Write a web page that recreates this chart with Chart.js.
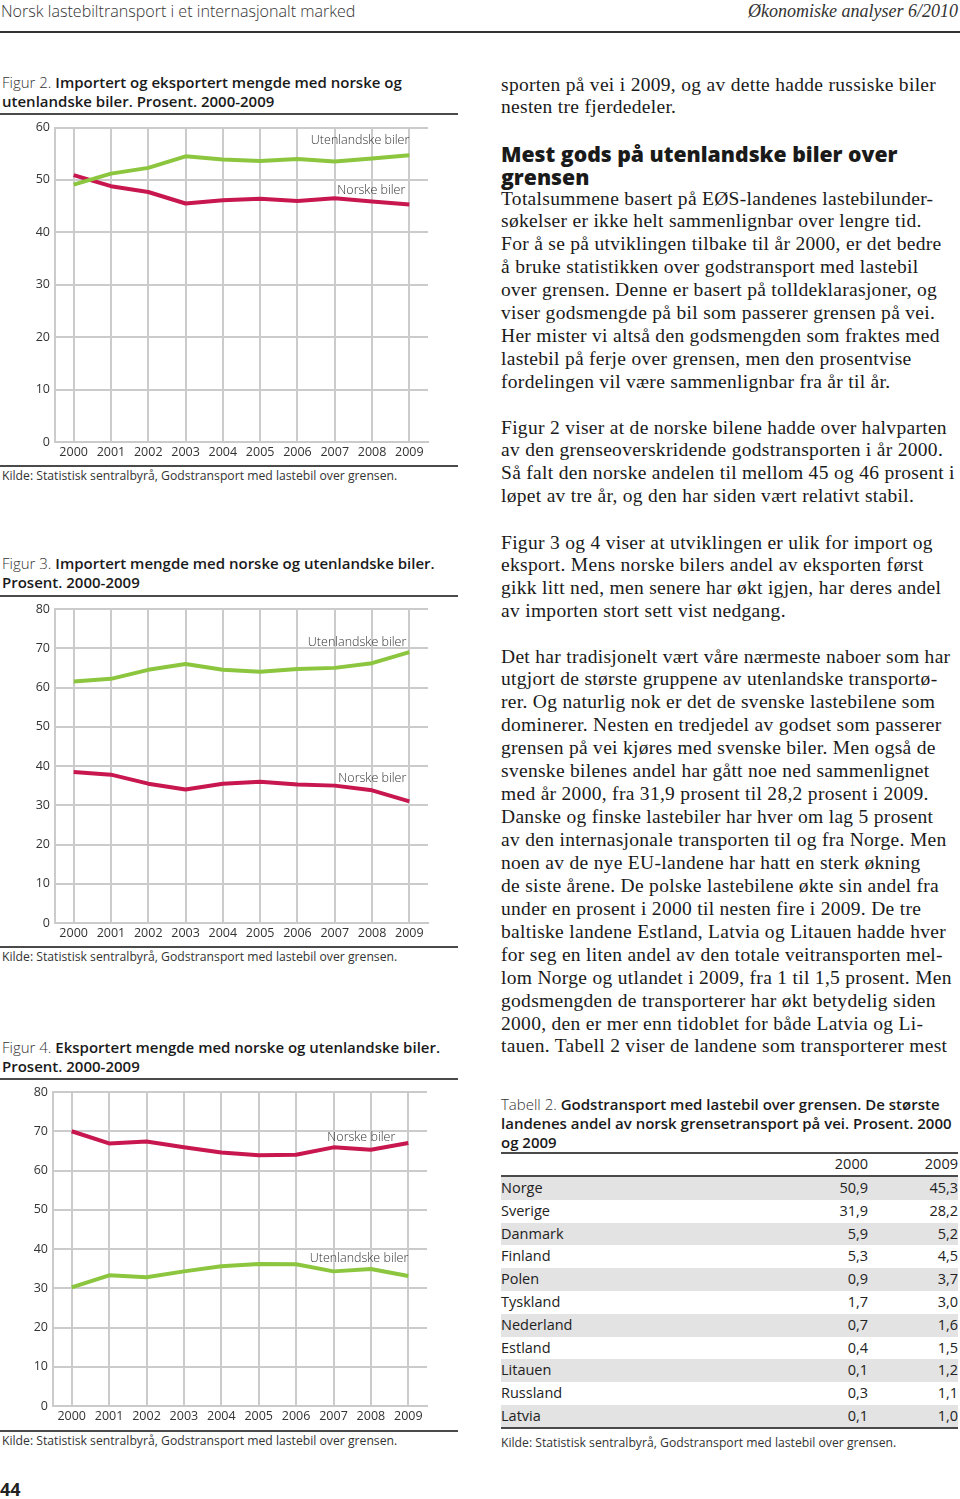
<!DOCTYPE html>
<html lang="no">
<head>
<meta charset="utf-8">
<script src="https://cdn.jsdelivr.net/npm/chart.js@4.4.1/dist/chart.umd.min.js"></script>
<style>
  html, body { margin:0; padding:0; background:#fff; }
  body { width:960px; height:1499px; position:relative; overflow:hidden; color:#1a1a1a; }
  .abs { position:absolute; white-space:nowrap; }
  .sans { font-family:"Open Sans", "Noto Sans", sans-serif; }
  .serif { font-family:"Liberation Serif", "DejaVu Serif", serif; }
  .rule { position:absolute; background:#4a4a4a; }
  .cap { font-size:15px; line-height:19px; color:#1a1a1a; }
  .cap b { font-weight:600; }
  .cap .lt { font-weight:300; color:#333; }
  .src { font-size:12.2px; color:#333; line-height:16px; }
  .txt { font-size:19.5px; line-height:22.93px; letter-spacing:0.3px; color:#1a1a1a; }
  .chartbox { position:absolute; width:460px; height:350px; left:0; }
  .trow { position:absolute; left:501px; width:457px; height:22.8px; font-size:14.5px; line-height:22.8px; color:#222; }
  .trow.sh { background:#e3e3e3; }
  .trow span { position:absolute; }
</style>
</head>
<body>
<!-- header -->
<div class="abs sans" style="left:1px;top:0;font-size:16.1px;line-height:22px;font-weight:300;color:#333;">Norsk lastebiltransport i et internasjonalt marked</div>
<div class="abs serif" style="right:2px;top:0;font-size:18px;line-height:22px;font-style:italic;color:#333;">Økonomiske analyser 6/2010</div>
<div class="rule" style="left:0;top:31px;width:960px;height:2px;background:#333;"></div>

<!-- Figure 2 -->
<div class="abs sans cap" style="left:2px;top:72.5px;"><span class="lt">Figur 2.</span> <b>Importert og eksportert mengde med norske og</b><br><b>utenlandske biler. Prosent. 2000-2009</b></div>
<div class="rule" style="left:0;top:113px;width:458px;height:1.5px;"></div>
<div class="chartbox" style="top:115px;"><canvas id="c2"></canvas></div>
<div class="rule" style="left:0;top:465px;width:458px;height:1.5px;"></div>
<div class="abs sans src" style="left:2px;top:468px;">Kilde: Statistisk sentralbyrå, Godstransport med lastebil over grensen.</div>

<!-- Figure 3 -->
<div class="abs sans cap" style="left:2px;top:553.5px;"><span class="lt">Figur 3.</span> <b>Importert mengde med norske og utenlandske biler.</b><br><b>Prosent. 2000-2009</b></div>
<div class="rule" style="left:0;top:595px;width:458px;height:1.5px;"></div>
<div class="chartbox" style="top:596px;"><canvas id="c3"></canvas></div>
<div class="rule" style="left:0;top:946px;width:458px;height:1.5px;"></div>
<div class="abs sans src" style="left:2px;top:949px;">Kilde: Statistisk sentralbyrå, Godstransport med lastebil over grensen.</div>

<!-- Figure 4 -->
<div class="abs sans cap" style="left:2px;top:1037.5px;"><span class="lt">Figur 4.</span> <b>Eksportert mengde med norske og utenlandske biler.</b><br><b>Prosent. 2000-2009</b></div>
<div class="rule" style="left:0;top:1078px;width:458px;height:1.5px;"></div>
<div class="chartbox" style="top:1079px;"><canvas id="c4"></canvas></div>
<div class="rule" style="left:0;top:1430px;width:458px;height:1.5px;"></div>
<div class="abs sans src" style="left:2px;top:1433px;">Kilde: Statistisk sentralbyrå, Godstransport med lastebil over grensen.</div>

<div class="abs sans" style="left:0;top:1478px;font-size:18px;line-height:22px;font-weight:700;color:#222;">44</div>

<!-- Right column text -->
<div class="abs serif txt" style="left:501px;top:73.5px;">sporten på vei i 2009, og av dette hadde russiske biler<br>nesten tre fjerdedeler.</div>
<div class="abs sans" style="left:501px;top:141.5px;font-size:21.2px;line-height:23px;font-weight:800;color:#1a1a1a;">Mest gods på utenlandske biler over<br>grensen</div>
<div class="abs serif txt" style="left:501px;top:187.5px;">Totalsummene basert på EØS-landenes lastebilunder-<br>søkelser er ikke helt sammenlignbar over lengre tid.<br>For å se på utviklingen tilbake til år 2000, er det bedre<br>å bruke statistikken over godstransport med lastebil<br>over grensen. Denne er basert på tolldeklarasjoner, og<br>viser godsmengde på bil som passerer grensen på vei.<br>Her mister vi altså den godsmengden som fraktes med<br>lastebil på ferje over grensen, men den prosentvise<br>fordelingen vil være sammenlignbar fra år til år.</div>
<div class="abs serif txt" style="left:501px;top:416.5px;">Figur 2 viser at de norske bilene hadde over halvparten<br>av den grenseoverskridende godstransporten i år 2000.<br>Så falt den norske andelen til mellom 45 og 46 prosent i<br>løpet av tre år, og den har siden vært relativt stabil.</div>
<div class="abs serif txt" style="left:501px;top:531.5px;">Figur 3 og 4 viser at utviklingen er ulik for import og<br>eksport. Mens norske bilers andel av eksporten først<br>gikk litt ned, men senere har økt igjen, har deres andel<br>av importen stort sett vist nedgang.</div>
<div class="abs serif txt" style="left:501px;top:645.5px;">Det har tradisjonelt vært våre nærmeste naboer som har<br>utgjort de største gruppene av utenlandske transportø-<br>rer. Og naturlig nok er det de svenske lastebilene som<br>dominerer. Nesten en tredjedel av godset som passerer<br>grensen på vei kjøres med svenske biler. Men også de<br>svenske bilenes andel har gått noe ned sammenlignet<br>med år 2000, fra 31,9 prosent til 28,2 prosent i 2009.<br>Danske og finske lastebiler har hver om lag 5 prosent<br>av den internasjonale transporten til og fra Norge. Men<br>noen av de nye EU-landene har hatt en sterk økning<br>de siste årene. De polske lastebilene økte sin andel fra<br>under en prosent i 2000 til nesten fire i 2009. De tre<br>baltiske landene Estland, Latvia og Litauen hadde hver<br>for seg en liten andel av den totale veitransporten mel-<br>lom Norge og utlandet i 2009, fra 1 til 1,5 prosent. Men<br>godsmengden de transporterer har økt betydelig siden<br>2000, den er mer enn tidoblet for både Latvia og Li-<br>tauen. Tabell 2 viser de landene som transporterer mest</div>

<!-- Table 2 -->
<div class="abs sans cap" style="left:501px;top:1094.5px;font-size:15px;"><span class="lt">Tabell 2.</span> <b>Godstransport med lastebil over grensen. De største</b><br><b>landenes andel av norsk grensetransport på vei. Prosent. 2000</b><br><b>og 2009</b></div>
<div class="rule" style="left:501px;top:1152px;width:457px;height:2px;"></div>
<div id="thead" class="trow sans" style="top:1153px;"></div>
<div class="rule" style="left:501px;top:1175px;width:457px;height:2px;"></div>
<div id="tbody"></div>
<div class="rule" style="left:501px;top:1427px;width:457px;height:2px;"></div>
<div class="abs sans src" style="left:501px;top:1435px;">Kilde: Statistisk sentralbyrå, Godstransport med lastebil over grensen.</div>

<script>
// ---------- DATA ----------
const years = ["2000","2001","2002","2003","2004","2005","2006","2007","2008","2009"];

// Figur 2: import + eksport
const fig2Norske      = [50.9, 48.8, 47.7, 45.5, 46.1, 46.4, 46.0, 46.5, 45.9, 45.3];
const fig2Utenlandske = [49.1, 51.2, 52.3, 54.5, 53.9, 53.6, 54.0, 53.5, 54.1, 54.7];

// Figur 3: import
const fig3Norske      = [38.5, 37.8, 35.5, 34.0, 35.5, 36.0, 35.3, 35.0, 33.8, 31.0];
const fig3Utenlandske = [61.5, 62.2, 64.5, 66.0, 64.5, 64.0, 64.7, 65.0, 66.2, 69.0];

// Figur 4: eksport
const fig4Norske      = [70.0, 66.9, 67.4, 65.9, 64.6, 63.9, 64.0, 65.9, 65.3, 67.0];
const fig4Utenlandske = [30.2, 33.3, 32.8, 34.3, 35.6, 36.2, 36.1, 34.3, 34.9, 33.1];

// Tabell 2
const countries = ["Norge","Sverige","Danmark","Finland","Polen","Tyskland","Nederland","Estland","Litauen","Russland","Latvia"];
const share2000 = [50.9, 31.9, 5.9, 5.3, 0.9, 1.7, 0.7, 0.4, 0.1, 0.3, 0.1];
const share2009 = [45.3, 28.2, 5.2, 4.5, 3.7, 3.0, 1.6, 1.5, 1.2, 1.1, 1.0];
const tableYears = ["2000","2009"];

// ---------- TABLE ----------
const fmt = v => v.toFixed(1).replace(".", ",");
const thead = document.getElementById("thead");
thead.innerHTML = `<span style="right:90px">${tableYears[0]}</span><span style="right:0">${tableYears[1]}</span>`;
const tbody = document.getElementById("tbody");
countries.forEach((c, i) => {
  const d = document.createElement("div");
  d.className = "trow sans" + (i % 2 === 0 ? " sh" : "");
  d.style.top = (1177 + i * 22.8) + "px";
  d.innerHTML = `<span style="left:0">${c}</span><span style="right:90px">${fmt(share2000[i])}</span><span style="right:0">${fmt(share2009[i])}</span>`;
  tbody.appendChild(d);
});

// ---------- CHARTS ----------
const RED = "#c8174f", GREEN = "#8cc63f", GRID = "#cbcbcb";
Chart.defaults.font.family = '"Open Sans", "Noto Sans", sans-serif';
Chart.defaults.color = "#333";

const lineLabels = {
  id: "lineLabels",
  afterDatasetsDraw(chart, args, opts) {
    const ctx = chart.ctx, xs = chart.scales.x, ys = chart.scales.y;
    ctx.save();
    ctx.font = '300 12.5px "Open Sans", "Noto Sans", sans-serif';
    ctx.fillStyle = "#333";
    ctx.textAlign = "right";
    ctx.textBaseline = "middle";
    (opts.items || []).forEach(it => {
      ctx.fillText(it.text, xs.getPixelForValue(it.index) + (it.dx || 0), ys.getPixelForValue(it.value));
    });
    ctx.restore();
  }
};

function makeChart(id, norske, utenl, ymax, yLeft, rightPad, topPad, labelItems) {
  return new Chart(document.getElementById(id), {
    type: "line",
    data: {
      labels: years,
      datasets: [
        { label: "Utenlandske biler", data: utenl, borderColor: GREEN, backgroundColor: GREEN },
        { label: "Norske biler", data: norske, borderColor: RED, backgroundColor: RED }
      ]
    },
    options: {
      responsive: true,
      maintainAspectRatio: false,
      animation: false,
      events: [],
      layout: { padding: { top: topPad, right: rightPad, bottom: 0, left: 0 } },
      elements: {
        line: { borderWidth: 4, tension: 0, borderCapStyle: "butt", borderJoinStyle: "round" },
        point: { radius: 0 }
      },
      plugins: { legend: { display: false }, tooltip: { enabled: false }, lineLabels: { items: labelItems } },
      scales: {
        x: {
          offset: true,
          grid: { color: GRID, lineWidth: 2, drawTicks: false, offset: false },
          border: { color: GRID, width: 2 },
          ticks: { padding: 3, font: { size: 12.5 }, maxRotation: 0, autoSkip: false },
          afterFit: s => { s.height = 23; }
        },
        y: {
          min: 0, max: ymax,
          grid: { color: GRID, lineWidth: 2, drawTicks: false },
          border: { color: GRID, width: 2 },
          ticks: { stepSize: 10, padding: 5, font: { size: 12.5 } },
          afterFit: s => { s.width = yLeft; }
        }
      }
    },
    plugins: [lineLabels]
  });
}

makeChart("c2", fig2Norske, fig2Utenlandske, 60, 55, 32, 12, [
  { text: "Utenlandske biler", index: 9, value: 57.5, dx: 0 },
  { text: "Norske biler", index: 9, value: 48.0, dx: -4 }
]);
makeChart("c3", fig3Norske, fig3Utenlandske, 80, 55, 32, 13, [
  { text: "Utenlandske biler", index: 9, value: 71.6, dx: -3 },
  { text: "Norske biler", index: 9, value: 36.8, dx: -3 }
]);
makeChart("c4", fig4Norske, fig4Utenlandske, 80, 53, 33, 13, [
  { text: "Norske biler", index: 9, value: 68.5, dx: -13 },
  { text: "Utenlandske biler", index: 9, value: 37.5, dx: 0 }
]);
</script>
</body>
</html>
